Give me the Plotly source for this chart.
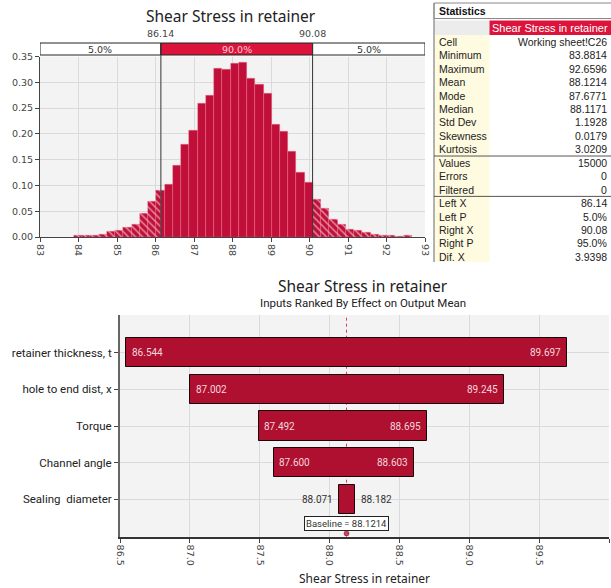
import plotly.graph_objects as go

W, H = 611, 588

# ---------------- data ----------------
hist_title = "Shear Stress in retainer"
hist_density = [0.002, 0.002, 0.003, 0.005, 0.010, 0.012, 0.018, 0.024, 0.045, 0.068,
                0.090, 0.102, 0.139, 0.179, 0.206, 0.259, 0.275, 0.326, 0.324, 0.337,
                0.339, 0.308, 0.296, 0.279, 0.219, 0.204, 0.165, 0.126, 0.106, 0.073,
                0.055, 0.034, 0.024, 0.015, 0.012, 0.008, 0.0045, 0.003, 0.002, 0.0015, 0.0025]
data_min = 83.8814
data_max = 92.6596
left_x = 86.14
right_x = 90.08
left_x_label = "86.14"
right_x_label = "90.08"
band_labels = ["5.0%", "90.0%", "5.0%"]

stat_title = "Statistics"
stat_series = "Shear Stress in retainer"
stat_labels = ["Cell", "Minimum", "Maximum", "Mean", "Mode", "Median", "Std Dev", "Skewness",
               "Kurtosis", "Values", "Errors", "Filtered", "Left X", "Left P", "Right X",
               "Right P", "Dif. X"]
stat_values = ["Working sheet!C26", "83.8814", "92.6596", "88.1214", "87.6771", "88.1171",
               "1.1928", "0.0179", "3.0209", "15000", "0", "0", "86.14", "5.0%", "90.08",
               "95.0%", "3.9398"]

tornado_title = "Shear Stress in retainer"
tornado_subtitle = "Inputs Ranked By Effect on Output Mean"
tornado_inputs = ["retainer thickness, t", "hole to end dist, x", "Torque", "Channel angle",
                  "Sealing\u00a0 diameter"]
tornado_low = [86.544, 87.002, 87.492, 87.600, 88.071]
tornado_high = [89.697, 89.245, 88.695, 88.603, 88.182]
baseline = 88.1214
tornado_xtitle = "Shear Stress in retainer"

# ---------------- styling ----------------
CRIMSON = "#C0103A"
BAR_T = "#B0102F"
BRIGHT = "#DC143C"
GRID = "#DADADA"
NUM_FONT = "DejaVu Sans"
TXT_FONT = "Roboto"
TAB_FONT = "Liberation Sans"


def px(x):
    return x / W


def py(y):
    return 1 - y / H


fig = go.Figure()

# ---------------- histogram ----------------
n = len(hist_density)
bw = (data_max - data_min) / n
tail_x, tail_w, tail_y = [], [], []
mid_x, mid_w, mid_y = [], [], []
for i, d in enumerate(hist_density):
    lo = data_min + i * bw
    hi = lo + bw
    cuts = sorted(set([lo, hi] + [c for c in (left_x, right_x) if lo < c < hi]))
    for a, b in zip(cuts[:-1], cuts[1:]):
        c = (a + b) / 2
        if c < left_x or c > right_x:
            tail_x.append(c); tail_w.append(b - a); tail_y.append(d)
        else:
            mid_x.append(c); mid_w.append(b - a); mid_y.append(d)

fig.add_trace(go.Bar(x=mid_x, y=mid_y, width=mid_w, xaxis="x", yaxis="y",
                     marker=dict(color=CRIMSON, line=dict(width=0.6, color="rgba(255,120,150,0.55)")),
                     hoverinfo="skip", showlegend=False))
fig.add_trace(go.Bar(x=tail_x, y=tail_y, width=tail_w, xaxis="x", yaxis="y",
                     marker=dict(color=CRIMSON,
                                 pattern=dict(shape="\\", fgcolor="white", bgcolor=CRIMSON,
                                              size=5, solidity=0.3),
                                 line=dict(width=0.6, color="rgba(255,120,150,0.55)")),
                     hoverinfo="skip", showlegend=False))

# markers at the percentile cut points
tri_y = (237 - 43.5) / 180 * 0.35
fig.add_trace(go.Scatter(x=[left_x, right_x], y=[tri_y, tri_y], mode="markers",
                         xaxis="x", yaxis="y", cliponaxis=False,
                         marker=dict(symbol="triangle-down", size=7, color="#222"),
                         hoverinfo="skip", showlegend=False))

shapes = []
annotations = []

# percentile band above the histogram
band_edges = [83, left_x, right_x, 93]
band_fill = ["white", BRIGHT, "white"]
band_txt = ["#333", "#F6D0DA", "#333"]
for k in range(3):
    shapes.append(dict(type="rect", xref="x", yref="paper", x0=band_edges[k], x1=band_edges[k + 1],
                       y0=py(55), y1=py(43), fillcolor=band_fill[k],
                       line=dict(color="#222", width=1), layer="above"))
    annotations.append(dict(text=band_labels[k], xref="x", yref="paper",
                            x=(band_edges[k] + band_edges[k + 1]) / 2, y=py(49),
                            showarrow=False, font=dict(family=NUM_FONT, size=9.5, color=band_txt[k]),
                            xanchor="center", yanchor="middle"))
for xv, lab in ((left_x, left_x_label), (right_x, right_x_label)):
    shapes.append(dict(type="line", xref="x", yref="paper", x0=xv, x1=xv, y0=py(237), y1=py(43),
                       line=dict(color="#333", width=1), layer="above"))
    annotations.append(dict(text=lab, xref="x", yref="paper", x=xv, y=py(34), showarrow=False,
                            font=dict(family=NUM_FONT, size=9.5, color="#444"),
                            xanchor="center", yanchor="middle"))

annotations.append(dict(text=hist_title, xref="paper", yref="paper", x=px(231), y=py(16.5),
                        showarrow=False, font=dict(family="Noto Sans", size=15.5, color="#222"),
                        xanchor="center", yanchor="middle"))

# ---------------- statistics table ----------------
TL, TM, TR = 434, 489.5, 613
shapes.append(dict(type="rect", xref="paper", yref="paper", x0=px(TL), x1=px(TR), y0=py(18.5), y1=py(3),
                   fillcolor="white", line=dict(color="#888", width=1)))
annotations.append(dict(text="<b>" + stat_title + "</b>", xref="paper", yref="paper", x=px(437), y=py(11),
                        showarrow=False, font=dict(family=TAB_FONT, size=10.5, color="#111"),
                        xanchor="left", yanchor="middle"))
shapes.append(dict(type="rect", xref="paper", yref="paper", x0=px(TL), x1=px(TM), y0=py(35), y1=py(20.5),
                   fillcolor="#ECECEC", line=dict(width=0)))
shapes.append(dict(type="rect", xref="paper", yref="paper", x0=px(TM), x1=px(TR), y0=py(35), y1=py(20.5),
                   fillcolor=BRIGHT, line=dict(width=0)))
annotations.append(dict(text=stat_series, xref="paper", yref="paper", x=px(610), y=py(28),
                        showarrow=False, font=dict(family=TAB_FONT, size=11, color="white"),
                        xanchor="right", yanchor="middle"))
shapes.append(dict(type="rect", xref="paper", yref="paper", x0=px(TL), x1=px(TM), y0=py(262), y1=py(35),
                   fillcolor="#FFFBE0", line=dict(width=0)))
shapes.append(dict(type="line", xref="paper", yref="paper", x0=px(TL), x1=px(TL), y0=py(262), y1=py(3),
                   line=dict(color="#999", width=1.5)))
row0, step = 41.7, 13.45
for i, (lab, val) in enumerate(zip(stat_labels, stat_values)):
    yc = row0 + step * i
    annotations.append(dict(text=lab, xref="paper", yref="paper", x=px(437), y=py(yc), showarrow=False,
                            font=dict(family=TAB_FONT, size=10.5, color="#222"),
                            xanchor="left", yanchor="middle"))
    annotations.append(dict(text=val, xref="paper", yref="paper", x=px(609), y=py(yc), showarrow=False,
                            font=dict(family=TAB_FONT, size=10.5, color="#222"),
                            xanchor="right", yanchor="middle"))
for after in (8, 11):
    ys = row0 + step * (after + 0.5)
    shapes.append(dict(type="line", xref="paper", yref="paper", x0=px(TL), x1=px(TR), y0=py(ys), y1=py(ys),
                       line=dict(color="#555", width=1)))

# ---------------- tornado ----------------
pos = list(range(len(tornado_inputs)))
fig.add_trace(go.Bar(y=pos, x=[h - l for l, h in zip(tornado_low, tornado_high)], base=tornado_low,
                     orientation="h", width=0.8, xaxis="x2", yaxis="y2",
                     marker=dict(color=BAR_T, line=dict(color="#1a0008", width=1)),
                     hoverinfo="skip", showlegend=False))

for p, lo, hi in zip(pos, tornado_low, tornado_high):
    if hi - lo > 0.5:
        col = "#F4D6DE"
        annotations.append(dict(text=f"{lo:.3f}", xref="x2", yref="y2", x=lo, y=p, xshift=3.5,
                                showarrow=False, xanchor="left", yanchor="middle",
                                font=dict(family=TXT_FONT, size=10, color=col)))
        annotations.append(dict(text=f"{hi:.3f}", xref="x2", yref="y2", x=hi, y=p, xshift=-4,
                                showarrow=False, xanchor="right", yanchor="middle",
                                font=dict(family=TXT_FONT, size=10, color=col)))
    else:
        col = "#333"
        annotations.append(dict(text=f"{lo:.3f}", xref="x2", yref="y2", x=lo, y=p, xshift=-4,
                                showarrow=False, xanchor="right", yanchor="middle",
                                font=dict(family=TXT_FONT, size=10, color=col)))
        annotations.append(dict(text=f"{hi:.3f}", xref="x2", yref="y2", x=hi, y=p, xshift=3.5,
                                showarrow=False, xanchor="left", yanchor="middle",
                                font=dict(family=TXT_FONT, size=10, color=col)))

# dotted baseline (drawn from the baseline value, spanning the tornado plot height)
y2_range = [5.02, -1.03]
shapes.append(dict(type="line", xref="x2", yref="y2", x0=baseline, x1=baseline,
                   y0=y2_range[0], y1=y2_range[1],
                   line=dict(color="#D0405E", width=1, dash="dot"), layer="below"))
annotations.append(dict(text=f"Baseline = {baseline:.4f}", xref="x2", yref="y2", x=baseline, y=4.65,
                        showarrow=False, xanchor="center", yanchor="middle", bgcolor="white",
                        bordercolor="#222", borderwidth=1, borderpad=1,
                        font=dict(family=TXT_FONT, size=9.5, color="#333")))
fig.add_trace(go.Scatter(x=[baseline], y=[4.93], mode="markers", xaxis="x2", yaxis="y2", cliponaxis=False,
                         marker=dict(symbol="circle", size=5, color="#D0405E", line=dict(color="#7a0a22", width=0.5)),
                         hoverinfo="skip", showlegend=False))

annotations.append(dict(text=tornado_title, xref="paper", yref="paper", x=px(363), y=py(286),
                        showarrow=False, font=dict(family="Noto Sans", size=15.5, color="#222"),
                        xanchor="center", yanchor="middle"))
annotations.append(dict(text=tornado_subtitle, xref="paper", yref="paper", x=px(363), y=py(303),
                        showarrow=False, font=dict(family=TXT_FONT, size=11.5, color="#222"),
                        xanchor="center", yanchor="middle"))
annotations.append(dict(text=tornado_xtitle, xref="paper", yref="paper", x=px(364.5), y=py(578),
                        showarrow=False, font=dict(family="Noto Sans", size=12, color="#222"),
                        xanchor="center", yanchor="middle"))

axis_common = dict(showgrid=True, gridcolor=GRID, gridwidth=1, zeroline=False, ticks="outside",
                   ticklen=4, tickcolor="#444", showline=True, automargin=False)

fig.update_layout(
    width=W, height=H, margin=dict(l=0, r=0, t=0, b=0, pad=0),
    paper_bgcolor="white", plot_bgcolor="#F3F3F3",
    barmode="overlay", bargap=0, showlegend=False,
    xaxis=dict(domain=[px(40), px(425)], range=[83, 93], dtick=1, tickangle=90, anchor="y",
               linecolor="#444", linewidth=1,
               tickfont=dict(family=NUM_FONT, size=9.5, color="#444"), **axis_common),
    yaxis=dict(domain=[py(237), py(56.5)], range=[0, 0.35], dtick=0.05, tickformat=".2f", anchor="x",
               linecolor="#444", linewidth=1,
               tickfont=dict(family=NUM_FONT, size=9.5, color="#444"), **axis_common),
    xaxis2=dict(domain=[px(120), px(609)], range=[86.5, 90.0], dtick=0.5, tickformat=".1f", tickangle=90,
                anchor="y2", linecolor="#333", linewidth=2,
                tickfont=dict(family=NUM_FONT, size=9.5, color="#444"), **axis_common),
    yaxis2=dict(domain=[py(536.7), py(315)], range=y2_range, tickvals=pos, ticktext=tornado_inputs,
                anchor="x2", linecolor="#666", linewidth=2,
                tickfont=dict(family=TXT_FONT, size=11.5, color="#222"), **axis_common),
    shapes=shapes, annotations=annotations,
)

fig.write_html("out.html", config={"displayModeBar": False},
               post_script="document.body.style.margin='0px';")
